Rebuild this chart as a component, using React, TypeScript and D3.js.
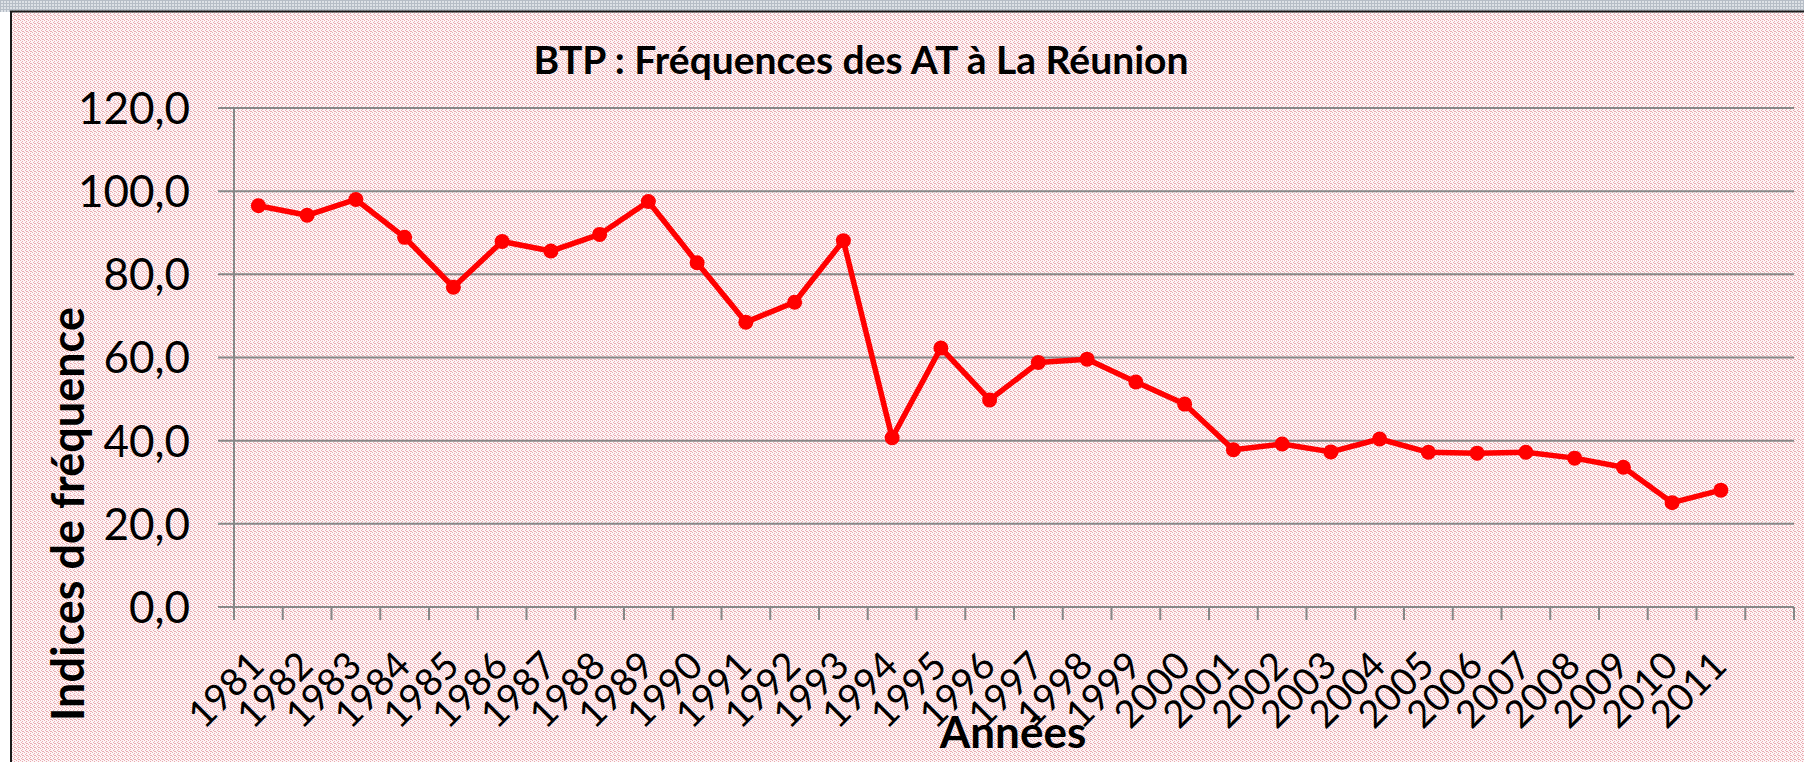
import React, { useEffect, useRef } from 'react';
import * as d3 from 'd3';

// BTP accident frequency index, Réunion
const years = [
  '1981', '1982', '1983', '1984', '1985', '1986', '1987', '1988', '1989', '1990',
  '1991', '1992', '1993', '1994', '1995', '1996', '1997', '1998', '1999', '2000',
  '2001', '2002', '2003', '2004', '2005', '2006', '2007', '2008', '2009', '2010', '2011',
];
const values = [
  96.5, 94.2, 98.0, 88.9, 76.9, 87.9, 85.6, 89.6, 97.5, 82.8,
  68.5, 73.3, 88.1, 40.7, 62.3, 49.8, 58.8, 59.6, 54.1, 48.8,
  37.8, 39.2, 37.3, 40.4, 37.2, 37.0, 37.2, 35.8, 33.6, 25.1, 28.1,
];
// the axis keeps one empty slot after 2011
const slots = [...years, ''];
const yTicks = [0, 20, 40, 60, 80, 100, 120];

const title = 'BTP : Fréquences des AT à La Réunion';
const xTitle = 'Années';
const yTitle = 'Indices de fréquence';

function App() {
  const ref = useRef(null);

  const width = 1804;
  const height = 762;
  const margin = { top: 108, right: 10, bottom: 155, left: 234 };

  useEffect(() => {
    d3.select(ref.current).select('svg').remove();
    const svg = d3
      .select(ref.current)
      .append('svg')
      .attr('width', width)
      .attr('height', height)
      .style('display', 'block');

    const defs = svg.append('defs');
    const pink = defs
      .append('pattern')
      .attr('id', 'pinkDots')
      .attr('width', 4)
      .attr('height', 4)
      .attr('patternUnits', 'userSpaceOnUse');
    pink.append('rect').attr('width', 4).attr('height', 4).attr('fill', '#fdf5f6');
    [[0, 0], [2, 1], [1, 2], [3, 3], [2, 3]].forEach(([px, py]) => {
      pink.append('rect').attr('x', px).attr('y', py).attr('width', 1).attr('height', 1).attr('fill', '#eaacb2');
    });

    const grey = defs
      .append('pattern')
      .attr('id', 'greyCheck')
      .attr('width', 3)
      .attr('height', 3)
      .attr('patternUnits', 'userSpaceOnUse');
    grey.append('rect').attr('width', 3).attr('height', 3).attr('fill', '#dde1e6');
    grey.append('rect').attr('width', 1).attr('height', 3).attr('fill', '#b6bdc6');
    grey.append('rect').attr('width', 3).attr('height', 1).attr('fill', '#b6bdc6');

    // page background, top band and chart area
    svg.append('rect').attr('width', width).attr('height', height).attr('fill', '#ffffff');
    svg.append('rect').attr('width', width).attr('height', 12).attr('fill', 'url(#greyCheck)');
    svg.append('rect').attr('x', 11).attr('y', 12).attr('width', width - 11).attr('height', height - 12).attr('fill', 'url(#pinkDots)');
    svg.append('line').attr('x1', 10).attr('x2', width).attr('y1', 11.5).attr('y2', 11.5).attr('stroke', '#1a1a1a').attr('stroke-width', 2);
    svg.append('line').attr('x1', 11).attr('x2', 11).attr('y1', 11).attr('y2', height).attr('stroke', '#1a1a1a').attr('stroke-width', 2);

    const x = d3
      .scaleBand()
      .domain(slots)
      .range([margin.left, width - margin.right]);

    const y = d3
      .scaleLinear()
      .domain([0, 120])
      .range([height - margin.bottom, margin.top]);

    const fr = d3.formatLocale({ decimal: ',', thousands: ' ', grouping: [3], currency: ['', ' €'] });
    const fmt = fr.format('.1f');
    const axisColor = '#878787';
    const font = 'Lato, Carlito, Calibri, sans-serif';

    // horizontal gridlines with their left ticks
    svg
      .append('g')
      .selectAll('line')
      .data(yTicks)
      .join('line')
      .attr('x1', margin.left - 16)
      .attr('x2', width - margin.right)
      .attr('y1', (d) => y(d))
      .attr('y2', (d) => y(d))
      .attr('stroke', axisColor)
      .attr('stroke-width', 2);

    svg
      .append('line')
      .attr('x1', margin.left)
      .attr('x2', margin.left)
      .attr('y1', y(120))
      .attr('y2', y(0))
      .attr('stroke', axisColor)
      .attr('stroke-width', 2);

    // x ticks on band edges
    const edges = slots.map((s) => x(s)).concat([width - margin.right]);
    svg
      .append('g')
      .selectAll('line')
      .data(edges)
      .join('line')
      .attr('x1', (d) => d)
      .attr('x2', (d) => d)
      .attr('y1', y(0))
      .attr('y2', y(0) + 13)
      .attr('stroke', axisColor)
      .attr('stroke-width', 2);

    svg
      .append('g')
      .selectAll('text')
      .data(yTicks)
      .join('text')
      .attr('x', 190)
      .attr('y', (d) => y(d))
      .attr('dy', '0.36em')
      .attr('text-anchor', 'end')
      .style('font-family', font)
      .style('font-size', '44px')
      .attr('fill', '#000')
      .text((d) => fmt(d));

    svg
      .append('g')
      .selectAll('text')
      .data(years)
      .join('text')
      .attr('text-anchor', 'end')
      .attr('transform', (d) => `translate(${x(d) + x.bandwidth() / 2 + 8},${y(0) + 61}) rotate(-45)`)
      .style('font-family', font)
      .style('font-size', '38px')
      .attr('fill', '#000')
      .text((d) => d);

    const line = d3
      .line()
      .x((d, i) => x(years[i]) + x.bandwidth() / 2)
      .y((d) => y(d));

    svg
      .append('path')
      .datum(values)
      .attr('d', line)
      .attr('fill', 'none')
      .attr('stroke', '#ff0000')
      .attr('stroke-width', 5.5)
      .attr('stroke-linejoin', 'round');

    svg
      .append('g')
      .selectAll('circle')
      .data(values)
      .join('circle')
      .attr('cx', (d, i) => x(years[i]) + x.bandwidth() / 2)
      .attr('cy', (d) => y(d))
      .attr('r', 7.5)
      .attr('fill', '#ff0000');

    svg
      .append('text')
      .attr('x', 861)
      .attr('y', 74)
      .attr('text-anchor', 'middle')
      .style('font-family', font)
      .style('font-weight', 'bold')
      .style('font-size', '39px')
      .attr('fill', '#000')
      .text(title);

    svg
      .append('text')
      .attr('x', 1013)
      .attr('y', 748)
      .attr('text-anchor', 'middle')
      .style('font-family', font)
      .style('font-weight', 'bold')
      .style('font-size', '44px')
      .attr('fill', '#000')
      .text(xTitle);

    svg
      .append('text')
      .attr('transform', 'translate(84,514) rotate(-90)')
      .attr('text-anchor', 'middle')
      .style('font-family', font)
      .style('font-weight', 'bold')
      .style('font-size', '45px')
      .attr('fill', '#000')
      .text(yTitle);

    return () => {
      d3.select(ref.current).select('svg').remove();
    };
  }, []);

  return <div ref={ref} style={{ position: 'absolute', left: 0, top: 0 }}></div>;
}

export default App;
